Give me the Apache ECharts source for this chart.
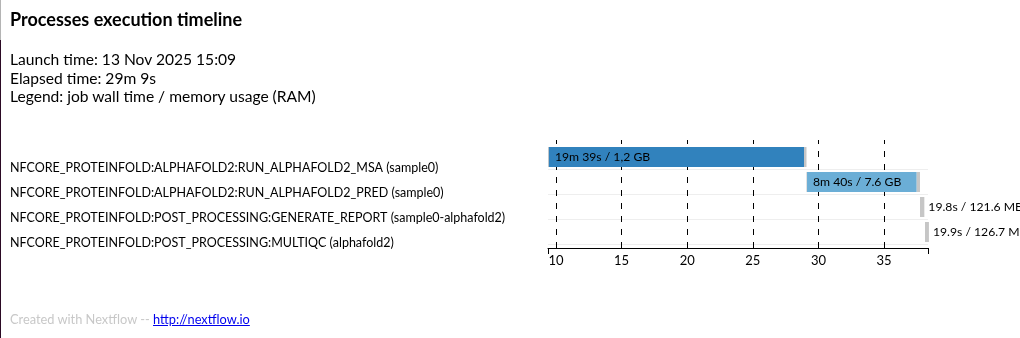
<!DOCTYPE html>
<html>
<head>
<meta charset="utf-8">
<script src="https://cdn.jsdelivr.net/npm/echarts@6/dist/echarts.min.js"></script>
<style>
  html, body { margin: 0; padding: 0; background: #fff; }
  body { width: 1020px; height: 338px; position: relative; overflow: hidden; font-family: Lato, sans-serif; color: #000; }
  #chart { position: absolute; left: 0; top: 0; width: 1020px; height: 338px; }
  .edge1 { position: absolute; left: 0; top: 0; width: 1px; height: 40px; background: #b4b4b4; }
  .edge2 { position: absolute; left: 0; top: 40px; width: 1px; height: 298px; background: #2b0a24; }
  h1 { position: absolute; left: 10px; top: 9px; margin: 0; font-size: 18px; font-weight: bold; line-height: 21.6px; white-space: nowrap; }
  .info { position: absolute; left: 10px; top: 50px; font-size: 15.6px; line-height: 18.7px; white-space: nowrap; }
  .foot { position: absolute; left: 10px; top: 312px; font-size: 12.8px; line-height: 15.4px; color: #c8c8c8; white-space: nowrap; }
  .foot a { color: #0000ee; text-decoration: underline; }
</style>
</head>
<body>
<div id="chart"></div>
<div class="edge1"></div><div class="edge2"></div>
<h1>Processes execution timeline</h1>
<div class="info">Launch time: 13 Nov 2025 15:09<br>Elapsed time: 29m 9s<br>Legend: job wall time / memory usage (RAM)</div>
<div class="foot">Created with Nextflow -- <a href="http://nextflow.io">http://nextflow.io</a></div>
<script>
// ---- data (minutes since launch) ----
const categories = [
  'NFCORE_PROTEINFOLD:ALPHAFOLD2:RUN_ALPHAFOLD2_MSA (sample0)',
  'NFCORE_PROTEINFOLD:ALPHAFOLD2:RUN_ALPHAFOLD2_PRED (sample0)',
  'NFCORE_PROTEINFOLD:POST_PROCESSING:GENERATE_REPORT (sample0-alphafold2)',
  'NFCORE_PROTEINFOLD:POST_PROCESSING:MULTIQC (alphafold2)'
];
const submitMin   = [9.39, 29.09, 37.74, 38.12];
const startMin    = [9.46, 29.13, 37.74, 38.12];
const realEndMin  = [28.90, 37.49, 37.74, 38.12];
const completeMin = [29.09, 37.74, 38.07, 38.42];
const barLabels = ['19m 39s / 1,2 GB', '8m 40s / 7.6 GB', '19.8s / 121.6 MB', '19.9s / 126.7 MB'];
const runColors = ['#3182bd', '#6baed6', '#9ecae1', '#c6dbef'];
const xTicks = [10, 15, 20, 25, 30, 35];
const xMin = 9.39;
const xMax = 38.35;

// ---- build ----
const FONT = 'Lato, sans-serif';
const GREY = '#c6c6c6';
const labelStyle = { color: '#000', fontFamily: FONT, fontSize: 12.2 };

const offsetData = submitMin.map(v => v);
const pendData = startMin.map((v, i) => +(v - submitMin[i]).toFixed(4));
const runData = realEndMin.map((v, i) => {
  const d = +(v - startMin[i]).toFixed(4);
  const item = { value: d, itemStyle: { color: runColors[i] } };
  if (d > 1) item.label = Object.assign({ show: true, position: 'insideLeft', distance: 6, formatter: barLabels[i] }, labelStyle);
  return item;
});
const tailData = completeMin.map((v, i) => {
  const d = +(v - realEndMin[i]).toFixed(4);
  const item = { value: d };
  if (realEndMin[i] - startMin[i] <= 1) item.label = Object.assign({ show: true, position: 'right', distance: 4, formatter: barLabels[i] }, labelStyle);
  return item;
});

const chart = echarts.init(document.getElementById('chart'), null, { renderer: 'canvas' });
chart.setOption({
  animation: false,
  textStyle: { fontFamily: FONT },
  grid: { left: 548, right: 92, top: 144.5, height: 100, containLabel: false, outerBoundsMode: 'none' },
  xAxis: [{
    type: 'value', min: xMin, max: xMax, position: 'bottom', offset: 3.5,
    axisLine: { show: true, lineStyle: { color: '#000', width: 1 } },
    axisTick: { show: true, inside: true, length: 108, customValues: xTicks,
      lineStyle: { color: '#000', width: 1, type: [6, 7] } },
    axisLabel: { show: true, customValues: xTicks, color: '#000', fontFamily: FONT, fontSize: 13, margin: 6 },
    splitLine: { show: false }
  }, {
    type: 'value', min: xMin, max: xMax, position: 'bottom', offset: 3.5,
    axisLine: { show: false },
    axisTick: { show: true, inside: false, length: 6, customValues: [xMin, xMax], lineStyle: { color: '#000', width: 1 } },
    axisLabel: { show: false },
    splitLine: { show: false }
  }],
  yAxis: {
    type: 'category', inverse: true, data: categories,
    axisLine: { show: false }, axisTick: { show: false },
    axisLabel: {
      align: 'left', margin: 538, color: '#000', fontFamily: FONT, fontSize: 12.5,
      formatter: (v) => '{r|' + v + '}',
      rich: { r: { color: '#000', fontFamily: FONT, fontSize: 12.5, padding: [21, 0, 0, 0] } }
    },
    splitLine: { show: true, interval: (i) => i > 0 && i < categories.length, lineStyle: { color: '#eeeeee', width: 1 } }
  },
  series: [
    { type: 'bar', stack: 't', barWidth: 20, data: offsetData, itemStyle: { color: 'transparent' }, silent: true, clip: true },
    { type: 'bar', stack: 't', barWidth: 20, data: pendData, itemStyle: { color: GREY }, clip: false },
    { type: 'bar', stack: 't', barWidth: 20, data: runData, clip: false },
    { type: 'bar', stack: 't', barWidth: 20, data: tailData, itemStyle: { color: GREY }, clip: false }
  ]
});
</script>
</body>
</html>
